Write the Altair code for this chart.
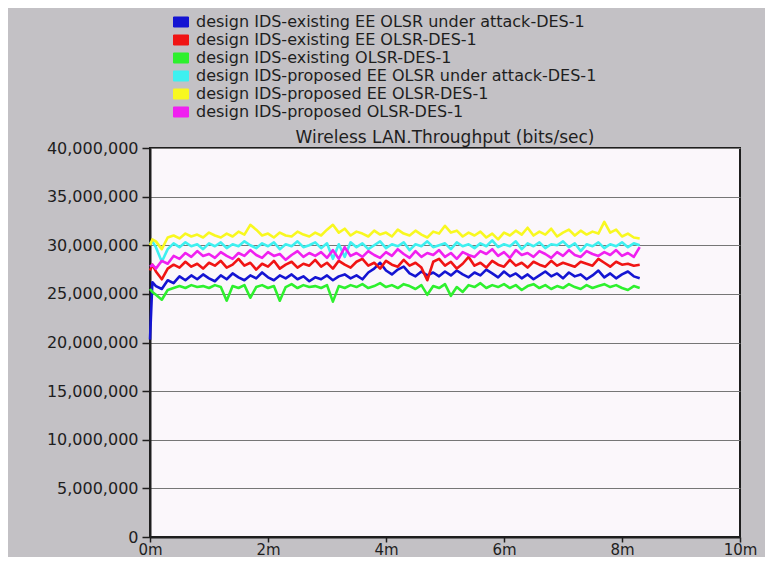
import altair as alt
import pandas as pd

# ---- data (values in millions of bits/sec) ----
times = [0.0, 0.04, 0.1, 0.2, 0.3, 0.4, 0.5, 0.6, 0.7, 0.8,
         0.9, 1.0, 1.1, 1.2, 1.3, 1.4, 1.5, 1.6, 1.7, 1.8,
         1.9, 2.0, 2.1, 2.2, 2.3, 2.4, 2.5, 2.6, 2.7, 2.8,
         2.9, 3.0, 3.1, 3.2, 3.3, 3.4, 3.5, 3.6, 3.7, 3.8,
         3.9, 4.0, 4.1, 4.2, 4.3, 4.4, 4.5, 4.6, 4.7, 4.8,
         4.9, 5.0, 5.1, 5.2, 5.3, 5.4, 5.5, 5.6, 5.7, 5.8,
         5.9, 6.0, 6.1, 6.2, 6.3, 6.4, 6.5, 6.6, 6.7, 6.8,
         6.9, 7.0, 7.1, 7.2, 7.3, 7.4, 7.5, 7.6, 7.7, 7.8,
         7.9, 8.0, 8.1, 8.2, 8.3]

names = [
    "design IDS-existing EE OLSR under attack-DES-1",
    "design IDS-existing EE OLSR-DES-1",
    "design IDS-existing OLSR-DES-1",
    "design IDS-proposed EE OLSR under attack-DES-1",
    "design IDS-proposed EE OLSR-DES-1",
    "design IDS-proposed OLSR-DES-1",
]
colors = ["#1414d2", "#f01414", "#2ef02e", "#3ef0f0", "#f8f820", "#f020f0"]

blue = [20.3, 26.2, 25.8, 25.5, 26.4, 26.1, 26.8, 26.4, 26.9, 26.5,
        27.0, 26.6, 26.3, 26.9, 26.5, 27.1, 26.7, 26.4, 26.9, 26.6,
        27.2, 26.7, 26.4, 26.9, 26.6, 27.0, 26.5, 26.8, 26.3, 26.7,
        26.5, 26.9, 26.4, 26.8, 27.0, 26.6, 26.9, 26.5, 27.2, 27.6,
        28.2, 27.4, 27.0, 27.5, 27.8, 27.1, 26.8, 27.3, 26.9, 27.2,
        26.8, 27.3, 26.9, 27.4, 27.0, 26.7, 27.2, 26.9, 27.5, 27.1,
        26.7, 27.3, 26.8, 27.1, 26.6, 27.0, 26.5, 26.9, 27.3, 26.8,
        27.1, 26.6, 27.2, 26.8, 27.0, 26.5, 26.9, 27.4, 26.7, 27.1,
        26.6, 27.0, 27.3, 26.8, 26.6]

red = [27.4, 28.0, 27.3, 26.5, 27.6, 28.0, 27.7, 28.3, 27.8, 28.1,
       27.6, 28.2, 27.9, 28.4, 27.7, 28.0, 28.6, 27.9, 28.2, 27.5,
       28.1, 27.8, 28.4, 27.6, 28.0, 28.3, 27.7, 28.1, 27.9, 28.5,
       27.8, 28.2, 27.6, 28.4, 28.0, 27.7, 28.3, 28.6, 27.9, 28.2,
       27.6, 28.4, 28.0, 27.8, 28.5, 27.9, 28.2, 27.7, 26.4, 28.3,
       28.6, 27.9, 28.3, 27.6, 28.1, 28.8, 27.9, 28.2, 27.7, 28.4,
       28.0, 27.8, 28.5, 27.9, 28.2, 27.7, 28.3, 28.0, 27.8, 28.4,
       27.9, 28.2, 28.0, 27.8, 28.3, 28.1, 27.9, 28.6, 28.2, 27.8,
       28.3, 28.0, 28.1, 27.9, 28.0]

green = [25.5, 25.2, 24.9, 24.4, 25.4, 25.6, 25.8, 25.6, 25.9, 25.7,
         25.8, 25.6, 25.9, 25.7, 24.3, 25.8, 25.6, 25.9, 24.6, 25.7,
         25.9, 25.6, 25.8, 24.3, 25.7, 26.0, 25.6, 25.9, 25.7, 25.8,
         25.6, 25.9, 24.2, 25.8, 25.6, 25.9, 25.7, 26.0, 25.6, 25.8,
         26.1, 25.7, 25.9, 25.6, 26.0, 25.8, 25.5, 25.9, 24.9, 25.8,
         25.6, 26.0, 24.8, 25.7, 25.2, 25.9, 25.7, 26.1, 25.6, 25.9,
         25.7, 26.0, 25.6, 25.9, 25.4, 25.8, 26.0, 25.6, 25.9, 25.5,
         25.8, 25.6, 26.0, 25.7, 25.5, 25.9, 25.6, 25.8, 26.0, 25.7,
         25.9, 25.6, 25.4, 25.8, 25.6]

cyan = [30.2, 30.4, 29.8, 28.3, 29.6, 30.2, 29.8, 30.3, 29.9, 30.1,
        29.6, 30.2, 29.9, 30.3, 29.7, 30.1, 29.9, 30.4, 30.0, 29.7,
        30.2, 29.9, 30.3, 29.6, 30.1, 29.9, 30.4, 29.8, 30.0, 30.3,
        29.7, 30.2, 28.6, 30.1, 28.8, 30.3, 29.8, 30.2, 29.6, 30.0,
        30.4, 29.7, 30.1, 29.9, 30.3, 29.5, 30.1, 29.9, 30.4, 29.8,
        30.0, 30.2, 29.6, 30.3, 29.9, 30.1, 29.7, 30.2, 29.9, 30.5,
        29.8, 30.1, 29.9, 30.4, 29.6, 30.2, 29.9, 30.3, 29.7, 30.1,
        30.0, 30.4, 29.8, 30.2, 29.4, 30.1, 29.9, 30.3, 29.7, 30.1,
        29.9, 30.3, 29.8, 30.2, 30.0]

yellow = [30.0, 30.6, 30.4, 29.6, 30.8, 31.0, 30.7, 31.2, 30.9, 31.1,
          30.8, 31.3, 31.0, 30.8, 31.2, 30.9, 31.4, 31.1, 32.1, 31.6,
          31.0, 31.2, 30.8, 31.3, 31.0, 30.9, 31.4, 31.1, 30.9, 31.3,
          31.0, 31.6, 32.1, 31.3, 31.7, 31.0, 31.4, 31.2, 30.9, 31.5,
          31.1, 31.3, 30.9, 31.6, 31.2, 31.0, 31.5, 31.1, 30.8, 31.4,
          31.2, 32.0, 31.3, 31.5, 30.9, 31.3, 31.0, 31.4, 30.8, 31.2,
          30.6, 31.3, 31.0, 31.5, 31.1, 31.8, 31.0, 31.4, 31.1, 31.7,
          30.9, 31.3, 31.6, 31.0, 31.5, 31.1, 31.4, 31.2, 32.4, 31.3,
          31.6, 30.9, 31.2, 30.8, 30.7]

magenta = [27.8, 28.0, 27.6, 28.4, 28.1, 28.9, 28.6, 29.2, 28.8, 29.4,
           28.9, 29.1, 28.7, 29.3, 28.9, 28.6, 29.2, 28.9, 29.5, 29.0,
           28.7, 29.3, 28.9, 29.1, 28.5, 29.0, 29.4, 28.8, 29.2, 28.9,
           29.3, 28.7, 29.5, 28.6, 29.8, 28.9, 29.2, 28.8, 29.4, 29.0,
           28.7, 29.3, 28.9, 29.6, 29.1, 28.7, 29.4, 28.8, 29.2, 29.0,
           29.5, 28.8, 29.2, 28.6, 29.3, 29.0, 28.8, 29.4, 29.1, 29.6,
           28.9, 29.3, 28.7, 29.5, 29.0, 29.2, 28.8, 29.4, 29.1, 28.7,
           29.3, 28.9, 29.5, 29.0, 28.8, 29.4, 29.1, 28.9, 29.3, 29.0,
           29.5, 28.9, 29.2, 28.8, 29.8]

series = [blue, red, green, cyan, yellow, magenta]

y_ticks = [0, 5e6, 10e6, 15e6, 20e6, 25e6, 30e6, 35e6, 40e6]
x_ticks = [0, 2, 4, 6, 8, 10]

rows = []
for k, (name, vals) in enumerate(zip(names, series)):
    for t, v in zip(times, vals):
        rows.append({"time": t, "value": v * 1e6, "series": name, "k": k})
df = pd.DataFrame(rows)

FONT = "DejaVu Sans"
TXT = "#1e1e1e"
box = "M-1,-0.667L1,-0.667L1,0.667L-1,0.667Z"

x = alt.X("time:Q",
          scale=alt.Scale(domain=[0, 10], nice=False, zero=True),
          axis=alt.Axis(values=x_ticks, labelExpr="datum.value + 'm'", title=None,
                        grid=False, tickSize=5, labelPadding=12, labelFlush=False,
                        labelBaseline="alphabetic",
                        domainColor=TXT, domainWidth=2, tickColor=TXT, tickWidth=1.5,
                        labelFont=FONT, labelFontSize=15, labelColor=TXT))
y = alt.Y("value:Q",
          scale=alt.Scale(domain=[0, 40e6], nice=False),
          axis=alt.Axis(values=y_ticks, format=",d", title=None,
                        grid=True, gridColor="#767676", gridWidth=1, gridOpacity=1,
                        tickSize=8, labelPadding=4,
                        domainColor=TXT, domainWidth=2, tickColor=TXT, tickWidth=1.5,
                        labelFont=FONT, labelFontSize=16, labelColor=TXT))


def make_legend():
    return alt.Legend(orient="none", legendX=23, legendY=-134,
                      direction="vertical", title=None,
                      symbolType=box, symbolSize=225,
                      symbolStrokeColor="black", symbolStrokeWidth=1,
                      symbolOpacity=1,
                      labelFont=FONT, labelFontSize=16, labelColor=TXT,
                      labelOffset=7, rowPadding=2, padding=0,
                      labelLimit=700)


lines = alt.Chart(df).mark_line(strokeWidth=2.6, strokeJoin="round").encode(
    x=x, y=y,
    color=alt.Color("series:N", scale=alt.Scale(domain=names, range=colors),
                    legend=make_legend()),
    detail="k:N",
)

keys = alt.Chart(df).mark_point(
    shape=box, filled=True, size=1, opacity=0
).encode(
    x=x, y=y,
    fill=alt.Fill("series:N", scale=alt.Scale(domain=names, range=colors),
                  legend=make_legend()),
)

chart = alt.layer(lines, keys).properties(
    width=590, height=389,
    title=alt.TitleParams("Wireless LAN.Throughput (bits/sec)", font=FONT, fontSize=17,
                          fontWeight="normal", color=TXT, anchor="middle", offset=3, dy=136),
    autosize=alt.AutoSizeParams(type="none"),
    padding={"left": 142, "top": 140, "right": 25, "bottom": 20},
    background="#c3c1c5",
).configure_view(
    fill="#fbf7fb", stroke=TXT, strokeWidth=2
)

chart.save("out.html", embed_options={"renderer": "svg", "actions": False})
